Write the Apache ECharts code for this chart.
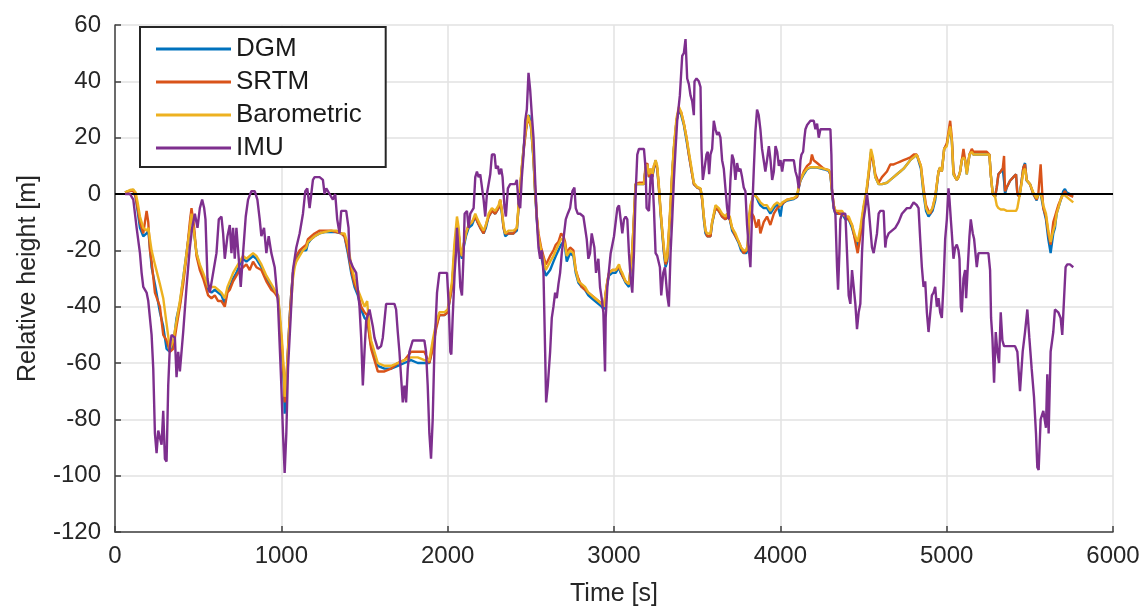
<!DOCTYPE html>
<html>
<head>
<meta charset="utf-8">
<script src="https://cdn.jsdelivr.net/npm/echarts@6/dist/echarts.min.js"></script>
<style>
html,body{margin:0;padding:0;background:#fff;}
#chart{width:1147px;height:612px;}
</style>
</head>
<body>
<div id="chart"></div>
<script>
// ---------- data ----------
const xTicks = [0, 1000, 2000, 3000, 4000, 5000, 6000];
const yTicks = [-120, -100, -80, -60, -40, -20, 0, 20, 40, 60];
const seriesNames = ['DGM', 'SRTM', 'Barometric', 'IMU'];

// time stamps shared by the three terrain/baro height series [s]
const terrT = [
  60, 90, 110, 124, 136, 150, 170, 190, 200, 210,
  220, 240, 270, 290, 310, 330, 350, 370, 390, 410,
  430, 450, 460, 476, 490, 510, 530, 560, 580, 600,
  620, 640, 660, 676, 690, 710, 730, 750, 770, 790,
  810, 830, 850, 880, 910, 940, 960, 980, 990, 1004,
  1016, 1020, 1030, 1040, 1050, 1060, 1070, 1080, 1090, 1110,
  1130, 1150, 1160, 1180, 1200, 1230, 1260, 1300, 1330, 1360,
  1380, 1400, 1420, 1440, 1460, 1480, 1500, 1516, 1530, 1540,
  1560, 1580, 1620, 1660, 1700, 1740, 1780, 1820, 1860, 1890,
  1910, 1930, 1950, 1980, 2000, 2026, 2040, 2056, 2066, 2076,
  2086, 2096, 2110, 2126, 2146, 2166, 2180, 2196, 2216, 2230,
  2246, 2266, 2286, 2306, 2316, 2326, 2336, 2346, 2366, 2396,
  2416, 2426, 2446, 2456, 2470, 2482, 2490, 2502, 2516, 2526,
  2536, 2546, 2562, 2576, 2590, 2600, 2616, 2636, 2650, 2666,
  2682, 2696, 2706, 2716, 2736, 2756, 2770, 2786, 2806, 2826,
  2846, 2866, 2886, 2906, 2926, 2940, 2950, 2960, 2970, 2990,
  3010, 3030, 3040, 3050, 3070, 3090, 3100, 3110, 3120, 3130,
  3150, 3180, 3190, 3200, 3210, 3220, 3230, 3240, 3250, 3260,
  3270, 3280, 3290, 3300, 3310, 3320, 3330, 3340, 3350, 3360,
  3376, 3390, 3404, 3420, 3436, 3450, 3464, 3480, 3500, 3520,
  3530, 3540, 3550, 3560, 3580, 3590, 3610, 3630, 3650, 3670,
  3680, 3696, 3710, 3730, 3750, 3764, 3780, 3796, 3804, 3812,
  3820, 3840, 3856, 3870, 3880, 3900, 3920, 3940, 3961, 3981,
  4001, 4010, 4021, 4041, 4081, 4101, 4111, 4121, 4141, 4161,
  4181, 4190, 4200, 4221, 4261, 4291, 4301, 4311, 4321, 4331,
  4351, 4371, 4391, 4411, 4431, 4451, 4465, 4481, 4501, 4517,
  4531, 4545, 4557, 4571, 4591, 4611, 4641, 4661, 4681, 4701,
  4721, 4741, 4761, 4781, 4801, 4820, 4831, 4845, 4861, 4876,
  4891, 4901, 4915, 4931, 4951, 4961, 4971, 4985, 5001, 5011,
  5021, 5031, 5041, 5051, 5061, 5071, 5081, 5091, 5101, 5111,
  5121, 5137, 5151, 5161, 5201, 5241, 5257, 5265, 5277, 5291,
  5301, 5311, 5325, 5337, 5345, 5351, 5361, 5381, 5401, 5417,
  5425, 5437, 5451, 5461, 5471, 5481, 5501, 5521, 5541, 5551,
  5565, 5575, 5581, 5597, 5611, 5625, 5641, 5651, 5661, 5671,
  5685, 5701, 5711, 5721, 5741, 5761
];

const dgmH = [
  0.6, 1.2, 1.4, -1, -6, -12, -15, -14, -13, -19,
  -26, -32, -42, -47, -55, -56, -54, -44, -39, -30,
  -21, -12, -6, -14, -21, -26, -29, -34, -35, -34,
  -35, -36, -39, -34, -33, -30, -28, -25, -23, -24,
  -23, -22, -23, -26, -30, -33, -35, -36, -44, -56,
  -68, -78, -68, -56, -44, -35, -28, -25, -23, -21,
  -20, -20, -17.5, -16, -15, -14, -13.5, -13.5, -13.5, -14,
  -15, -21, -28, -33, -36, -41, -44, -45, -50, -54,
  -57, -61, -62, -62, -61, -60, -59, -60, -60, -60,
  -54, -47, -43, -43, -42, -33, -21, -11, -14, -21,
  -23, -19, -15, -12, -11, -8, -10, -12, -14, -12,
  -8, -6, -7, -5, -2.5, -7, -12, -15, -14, -14,
  -13, -5, 9, 16, 23, 27, 28, 23, 12, 0,
  -9, -16, -22, -26, -29, -29, -27, -24, -22, -20,
  -18, -17, -19, -24, -21, -22, -28, -31.5, -33, -34,
  -36, -37, -38, -39, -40, -41, -36, -31.5, -29, -28,
  -28, -26, -28, -29, -31.5, -33, -33, -21, -9, 3.5,
  3.5, 3.5, 9, 10.5, 6, 8, 6, 9, 12, 9,
  2, -7, -14, -21, -26, -24, -15, -5, 7, 16,
  26, 30, 28, 24.5, 19, 14, 9, 3.5, 2.3, 1.8,
  -2, -9, -14, -15, -15, -10.5, -5, -6, -8, -9,
  -8, -9, -13, -15, -17.5, -20, -21, -21, -19, -9,
  -5, 0, -1, -3, -4, -5, -5, -7, -5, -3.5,
  -8, -4, -3, -2.3, -1.8, -1, 2.3, 4.7, 7, 8.8,
  9.4, 9.4, 9.4, 9.4, 8.8, 8.2, 7, 0, -5, -7,
  -7, -7, -9, -9, -12, -16, -19, -14, -5, 0,
  7, 15, 12, 6, 3.5, 3.5, 4, 5, 6, 7,
  8, 9, 10.5, 12, 13, 14, 14, 9, 0, -6,
  -8, -8, -6, -2.3, 8, 9.4, 8, 16, 17.5, 21,
  22, 19, 7, 6, 5, 6, 8, 12, 13, 12,
  7, 14, 15, 14, 14, 14, 14, 7, 0, -1,
  2.3, 7, 8, 9, 4.7, 0, 2.3, 4.7, 6, 7,
  0, -1, 4.7, 9.4, 11, 4.7, 3.5, 0, -2.3, 0,
  0, -3, -5, -9, -16, -21, -14, -12, -7, -5,
  -2.3, 1, 1.8, 0.6, 0, -0.6
];

const srtmH = [
  0.6, 1, 1.2, -1, -5, -10, -14, -6, -10, -20,
  -24, -35, -40, -50, -52, -56, -55, -47, -40, -32,
  -22, -10, -5, -12, -22, -27, -30, -36, -37, -36,
  -38, -38, -40, -35, -34, -31, -29, -27, -26, -25,
  -27, -24, -26, -27, -31, -34, -35, -37, -44, -54,
  -66, -74, -66, -55, -44, -35, -28, -24, -22, -20,
  -19, -18, -16, -15, -14, -13, -13, -13, -13.5, -14,
  -15, -20, -27, -32, -35, -40, -42, -43, -51, -55,
  -59, -63, -63, -62, -60, -59, -56, -56, -56, -60,
  -55, -48, -43, -43, -42, -33, -22, -12, -14, -20,
  -22, -18, -14, -11, -10, -8, -10, -12, -14, -11,
  -8, -6, -7, -5, -2, -6, -12, -14, -14, -14,
  -12, -5, 9, 15, 22, 27, 27, 24, 13, 1,
  -8, -14, -19, -22, -25, -24, -22, -20, -18, -17,
  -14, -15, -17, -21, -19, -20, -27, -30, -33, -34,
  -35, -36, -37, -38, -39, -40, -35, -31, -28, -27,
  -27, -26, -27, -29, -31, -32, -32, -20, -8, 3.5,
  4, 4, 10, 11, 6, 9, 6, 10, 11, 9,
  2, -6, -13, -20, -25, -23, -14, -4, 7, 16,
  26, 30, 29, 25, 20, 14, 9, 3.5, 2.3, 1.8,
  -2, -8, -13, -15, -15, -10, -5, -6, -8, -9,
  -8, -9, -12, -15, -17, -19, -21, -20, -18, -9,
  -6, -8, -12, -9, -14, -10, -8, -11, -7, -5,
  -4, -4, -3, -2, -1.5, -1, 2.5, 5, 8, 10,
  11, 14, 12, 11, 9, 8.5, 7, 1, -4, -6,
  -7, -7, -8, -9, -11, -17, -21, -15, -5, 0,
  7, 14, 12, 7, 4, 6, 8, 10.5, 10.5, 11,
  11.5, 12, 12.5, 13, 14, 14, 14, 10, 2, -4,
  -6, -7, -5, -1, 8, 9.4, 8, 16, 18, 22,
  26, 20, 8, 6, 5, 6, 8, 12, 16, 12,
  8, 14, 16, 15, 15, 15, 14, 7, 0, -1,
  2.3, 7, 8, 9, 13.5, 1, 2.3, 4.7, 6, 7,
  0, -1, 4.7, 9.4, 10.5, 5, 3.5, 0, -2, 0,
  10.5, 0, -5, -8, -14, -18, -10, -8, -6, -4,
  -2, 0, 1, 0, -0.5, -1
];

const baroH = [
  0.6, 1.4, 1.6, 0.5, -3, -8, -12, -13, -12, -16,
  -20, -25, -32, -37, -46, -55, -52, -45, -38, -30,
  -21, -12, -7, -14, -21, -25, -28, -33, -33, -33,
  -34, -35, -37, -33, -31, -28, -26, -24, -22, -23,
  -22, -21, -22, -25, -29, -32, -34, -36, -42, -52,
  -64, -72, -66, -56, -46, -38, -30, -26, -24, -22,
  -20, -19, -17, -16, -15, -14, -13.5, -13, -13, -14,
  -14, -18, -25, -30, -34, -37, -40, -38, -48, -52,
  -56, -60, -61, -61, -60, -59, -58, -58, -59, -59,
  -52, -46, -42, -42, -41, -31, -18, -8, -12, -19,
  -22, -18, -14, -11, -10, -7, -9, -11, -13, -11,
  -7, -5, -6, -4, -2, -6, -11, -14, -13, -13,
  -12, -4, 10, 16, 23, 28, 28, 24, 13, 1,
  -8, -15, -20, -23, -27, -27, -24, -22, -20, -18,
  -16, -16, -18, -22, -20, -21, -27, -31, -32, -33,
  -35, -36, -37, -38, -39, -40, -35, -31, -28, -27,
  -27, -25, -27, -28, -31, -32, -32, -20, -8, 3.5,
  3.5, 3.5, 9, 10.5, 7, 9, 7, 10, 12, 10,
  3, -6, -13, -19, -24, -22, -13, -3, 8, 17,
  27, 31, 29, 25, 20, 15, 10, 4, 2.5, 2,
  -1, -8, -13, -14, -14, -10, -4, -5, -7, -8,
  -7, -8, -12, -14, -17, -19, -20, -20, -18, -8,
  -4, 0, -1, -2, -3, -4, -4, -6, -4, -3,
  -4, -3, -2.5, -2, -1.5, -0.5, 3, 5, 7.5, 9,
  9.5, 9.5, 9.5, 9.5, 9, 8.5, 7.5, 1, -4, -6,
  -6, -6, -8, -8, -11, -15, -17, -12, -4, 1,
  8, 16, 13, 6, 3.5, 3.5, 4, 5, 6, 7,
  8, 9, 10.5, 12, 13, 14, 14.5, 10, 1, -5,
  -7, -7, -5, -1, 8, 9.5, 8, 16, 17, 21,
  24, 19, 7, 6, 5, 6, 8, 12, 13, 12,
  7, 14, 15, 14, 14, 14, 14, 7, 0, -1,
  -4, -5, -5.5, -5.5, -5.5, -6, -6, -6, -6, -6,
  -5, -1, 4, 8, 9, 5, 3.5, 0.5, -1.5, 0,
  0, -2, -4, -7, -13, -17, -13, -11, -7, -5,
  -2, 0, 0, -1, -2, -3
];

// IMU-integrated height
const imuT = [
  60, 90, 110, 130, 150, 160, 170, 190, 200, 220,
  230, 240, 250, 260, 280, 290, 300, 310, 320, 330,
  340, 360, 370, 380, 390, 410, 430, 450, 464, 480,
  496, 510, 524, 536, 544, 556, 570, 590, 610, 624,
  640, 650, 660, 676, 690, 700, 710, 720, 730, 744,
  756, 770, 786, 800, 820, 840, 856, 870, 880, 896,
  910, 924, 940, 960, 980, 1000, 1010, 1020, 1030, 1040,
  1056, 1070, 1090, 1110, 1130, 1144, 1156, 1170, 1180, 1190,
  1200, 1230, 1250, 1260, 1270, 1280, 1290, 1310, 1324, 1336,
  1350, 1360, 1390, 1404, 1410, 1430, 1450, 1470, 1480, 1490,
  1500, 1510, 1530, 1550, 1560, 1580, 1600, 1610, 1630, 1680,
  1690, 1700, 1710, 1720, 1730, 1740, 1750, 1760, 1770, 1790,
  1860, 1870, 1880, 1890, 1900, 1910, 1920, 1936, 1950, 1996,
  2006, 2016, 2022, 2030, 2042, 2050, 2056, 2066, 2076, 2086,
  2096, 2102, 2116, 2126, 2136, 2156, 2166, 2176, 2186, 2196,
  2206, 2216, 2226, 2236, 2256, 2266, 2282, 2290, 2302, 2310,
  2322, 2330, 2342, 2350, 2362, 2376, 2406, 2416, 2426, 2436,
  2446, 2456, 2466, 2476, 2486, 2496, 2506, 2516, 2526, 2536,
  2546, 2556, 2566, 2576, 2586, 2592, 2602, 2616, 2626, 2636,
  2646, 2656, 2666, 2676, 2686, 2696, 2710, 2722, 2736, 2750,
  2762, 2770, 2782, 2796, 2816, 2826, 2836, 2846, 2856, 2866,
  2882, 2892, 2906, 2916, 2926, 2936, 2946, 2950, 2960, 2980,
  3000, 3020, 3030, 3040, 3050, 3060, 3070, 3080, 3090, 3100,
  3110, 3120, 3130, 3140, 3150, 3180, 3190, 3196, 3210, 3220,
  3230, 3240, 3250, 3260, 3276, 3284, 3296, 3306, 3320, 3330,
  3340, 3350, 3360, 3370, 3380, 3396, 3410, 3420, 3430, 3440,
  3450, 3460, 3470, 3480, 3484, 3496, 3510, 3520, 3526, 3534,
  3544, 3556, 3564, 3572, 3580, 3590, 3600, 3610, 3620, 3630,
  3640, 3650, 3660, 3670, 3680, 3690, 3700, 3710, 3720, 3730,
  3740, 3750, 3760, 3770, 3780, 3790, 3800, 3810, 3820, 3830,
  3840, 3850, 3860, 3870, 3880, 3890, 3900, 3910, 3920, 3931,
  3941, 3951, 3961, 3971, 3981, 3991, 4001, 4011, 4021, 4081,
  4091, 4101, 4111, 4121, 4127, 4137, 4145, 4151, 4161, 4181,
  4201, 4211, 4221, 4231, 4241, 4301, 4307, 4311, 4321, 4331,
  4341, 4347, 4355, 4361, 4371, 4391, 4401, 4411, 4421, 4431,
  4441, 4451, 4461, 4471, 4481, 4491, 4501, 4511, 4521, 4531,
  4541, 4551, 4561, 4571, 4581, 4591, 4601, 4621, 4631, 4637,
  4651, 4671, 4691, 4711, 4731, 4761, 4781, 4801, 4821, 4831,
  4841, 4851, 4861, 4871, 4881, 4891, 4901, 4911, 4921, 4931,
  4941, 4951, 4961, 4971, 4981, 4991, 5001, 5011, 5017, 5025,
  5031, 5041, 5051, 5061, 5071, 5077, 5085, 5091, 5101, 5111,
  5117, 5125, 5137, 5145, 5157, 5165, 5173, 5181, 5191, 5251,
  5261, 5267, 5275, 5285, 5295, 5305, 5315, 5325, 5335, 5345,
  5411, 5425, 5441, 5457, 5471, 5485, 5497, 5511, 5525, 5537,
  5545, 5553, 5565, 5581, 5597, 5605, 5613, 5625, 5641, 5651,
  5671, 5685, 5695, 5705, 5715, 5725, 5741, 5761
];
const imuH = [
  0, 0, -2, -12, -21, -28, -33, -35, -38, -50,
  -62, -85, -92, -84, -89, -77, -94, -95, -68, -54,
  -50, -51, -65, -56, -63, -49, -33, -19, -12, -7,
  -12, -5, -2, -5, -9, -30, -35, -28, -21, -9,
  -8, -14, -23, -15, -11, -21, -12, -23, -12, -23,
  -33, -21, -8, -2, 1, 1, -2, -9, -15, -12,
  -21, -15, -21, -26, -39, -68, -85, -99, -85, -62,
  -44, -27, -19, -14, -7, 1, 2, -5, 0, 5,
  6, 6, 5, 0, 2, 1, 0, -2, 0, -9,
  -14, -6, -6, -12, -23, -26, -28, -40, -51, -68,
  -56, -45, -41, -47, -51, -55, -54, -51, -39, -39,
  -41, -49, -56, -65, -74, -68, -74, -62, -56, -52,
  -52, -56, -68, -85, -94, -80, -56, -35, -28, -28,
  -39, -56, -57, -44, -28, -21, -12, -21, -33, -36,
  -21, -7, -6, -12, -7, -5, 6, 8, 6, 7,
  7, -2, -8, 0, 7, 14, 14, 9, 10, 7,
  9, 6, -5, -8, 2, 3.5, 3.5, 5, -3.5, -5,
  6, 14, 26, 30, 43, 37, 28, 20, 5, -9,
  -19, -23, -20, -28, -56, -74, -68, -56, -44, -40,
  -35, -37, -32, -28, -21, -16, -9, -7, -5, 1,
  2.3, -5, -7, -7, -8, -12, -16, -23, -21, -14,
  -19, -28, -23, -33, -37, -42, -63, -44, -33, -21,
  -15, -5, -4, -9, -14, -9, -8, -9, -21, -30,
  -35, -21, 0, 14, 16, 16, 9, -5, -6, 6,
  7, -5, -21, -22, -26, -36, -28, -26, -36, -40,
  -21, -9, 5, 16, 26, 35, 49, 50, 55, 41,
  39, 35, 33, 28, 40, 41, 40, 38, 16, 5,
  9, 14, 15, 7, 14, 16, 26, 23, 21, 22,
  20, 12, 9, 2, -5, -9, 5, 14, 12, 5,
  11, 8, 9, 6, 2.3, 1, -11, -19, -26, -7,
  8, 22, 30, 28, 23, 16, 12, 8, 12, 17,
  12, 5, 8, 17, 15, 10, 12, 8, 12, 12,
  8, 6, 2, 12, 14, 15, 20, 23, 24.5, 26,
  26, 23, 25, 20, 23, 23, 14, 2, -5, -7,
  -26, -34, -21, -9, -7, -7, -21, -36, -39, -27,
  -33, -39, -48, -42, -39, -21, -9, -5, 0, -5,
  -12, -19, -21, -21, -14, -7, -6, -6, -19, -16,
  -14, -13, -12, -10, -7, -5, -5, -3, -4, -5,
  -16, -26, -33, -31, -42, -49, -49, -36, -35, -33,
  -40, -37, -42, -44, -32, -16, -9, 2, -2, -9,
  -14, -23, -19, -18, -20, -23, -40, -42, -30, -27,
  -37, -28, -15, -9, -14, -16, -21, -26, -21, -21,
  -27, -44, -51, -67, -49, -56, -60, -42, -52, -54,
  -54, -56, -70, -56, -49, -41, -51, -62, -72, -85,
  -97, -98, -80, -77, -83, -64, -85, -56, -49, -41,
  -42, -44, -50, -38, -26, -25, -25, -26
];

// ---------- chart ----------
const colors = ['#0072BD', '#D95319', '#EDB120', '#7E2F8E'];
const FONT = 'Liberation Sans, Arial, sans-serif';
function pairs(t, v) { return t.map((x, i) => [x, v[i]]); }
const valueSets = [dgmH, srtmH, baroH];

const series = seriesNames.slice(0, 3).map((name, i) => ({
  name: name,
  type: 'line',
  data: pairs(terrT, valueSets[i]),
  showSymbol: false,
  symbol: 'none',
  lineStyle: { width: 2.4, color: colors[i] },
  itemStyle: { color: colors[i] },
  z: 2 + i
}));
series.push({
  name: 'IMU',
  type: 'line',
  data: pairs(imuT, imuH),
  showSymbol: false,
  symbol: 'none',
  lineStyle: { width: 2.4, color: colors[3] },
  itemStyle: { color: colors[3] },
  z: 6,
  markLine: {
    silent: true,
    symbol: ['none', 'none'],
    label: { show: false },
    lineStyle: { color: '#000', width: 2.2, type: 'solid' },
    data: [{ yAxis: 0 }]
  }
});

const chart = echarts.init(document.getElementById('chart'), null, { renderer: 'canvas' });
chart.setOption({
  animation: false,
  backgroundColor: '#fff',
  color: colors,
  grid: { left: 115, right: 34, top: 25, bottom: 79, containLabel: false },
  legend: {
    data: seriesNames,
    orient: 'vertical',
    left: 140,
    top: 27,
    icon: 'rect',
    itemWidth: 75,
    itemHeight: 3,
    itemGap: 7,
    padding: [9, 24, 6, 16],
    borderColor: '#262626',
    borderWidth: 2,
    backgroundColor: '#fff',
    textStyle: { fontFamily: FONT, fontSize: 26, color: '#1a1a1a', lineHeight: 26 }
  },
  xAxis: {
    type: 'value',
    min: xTicks[0],
    max: xTicks[xTicks.length - 1],
    interval: 1000,
    name: 'Time [s]',
    nameLocation: 'middle',
    nameGap: 50,
    nameTextStyle: { fontFamily: FONT, fontSize: 25, color: '#262626' },
    axisLine: { show: true, onZero: false, lineStyle: { color: '#404040', width: 1.5 } },
    axisTick: { show: true, inside: true, length: 6, lineStyle: { color: '#404040', width: 1.5 } },
    axisLabel: { fontFamily: FONT, fontSize: 24, color: '#262626', margin: 12,
                 formatter: function (v) { return String(v); } },
    splitLine: { show: true, lineStyle: { color: '#e2e2e2', width: 1.5 } }
  },
  yAxis: {
    type: 'value',
    min: yTicks[0],
    max: yTicks[yTicks.length - 1],
    interval: 20,
    name: 'Relative height [m]',
    nameLocation: 'middle',
    nameGap: 74,
    nameRotate: 90,
    nameTextStyle: { fontFamily: FONT, fontSize: 25, color: '#262626' },
    axisLine: { show: true, onZero: false, lineStyle: { color: '#404040', width: 1.5 } },
    axisTick: { show: true, inside: true, length: 6, lineStyle: { color: '#404040', width: 1.5 } },
    axisLabel: { fontFamily: FONT, fontSize: 24, color: '#262626', margin: 14,
                 formatter: function (v) { return String(v); } },
    splitLine: { show: true, lineStyle: { color: '#e2e2e2', width: 1.5 } }
  },
  series: series
});
</script>
</body>
</html>
